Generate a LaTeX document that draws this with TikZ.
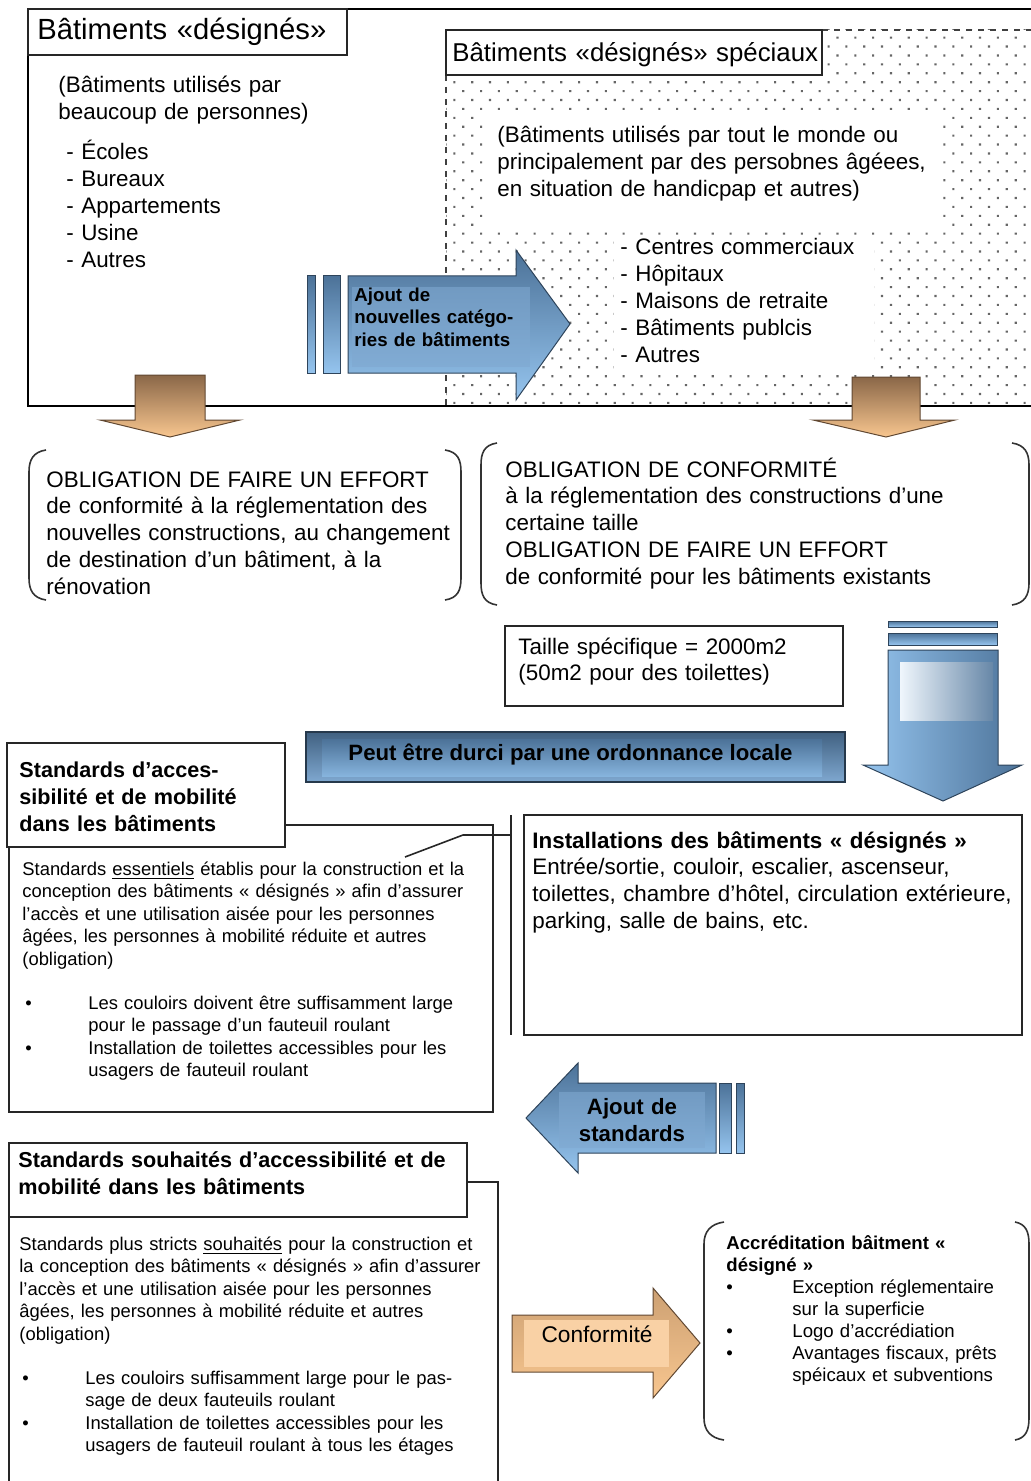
\documentclass[tikz,border=0pt]{standalone}
\usepackage{fontspec}
\setmainfont{Liberation Sans}
\usetikzlibrary{patterns.meta}

\definecolor{bluedk}{HTML}{4C7298}
\definecolor{bluelt}{HTML}{95C4EE}
\definecolor{bluemd}{HTML}{7FA8D0}
\definecolor{orgdk}{HTML}{8A6748}
\definecolor{orglt}{HTML}{F8C68F}

\newcommand{\fbody}{\fontsize{11.2}{13.4}\selectfont}
\newcommand{\fsmall}{\fontsize{9.2}{11.25}\selectfont}
\newcommand{\fhead}{\fontsize{10.8}{13.5}\selectfont\bfseries}
\newcommand{\bul}{\makebox[31.5pt][l]{•}}
\newcommand{\hind}{\hspace*{31.5pt}}

\tikzset{
  txt/.style={inner sep=0pt, anchor=base west, align=left, text width=#1},
  box/.style={draw=black!85, line width=0.8pt, fill=white, inner sep=0pt},
  bluearrow/.style={top color=bluedk, bottom color=bluelt, draw=bluedk!60!black, line width=0.5pt},
  bluedown/.style={left color=bluelt, right color=bluedk, draw=bluedk!60!black, line width=0.5pt},
  orangearrow/.style={top color=orgdk, bottom color=orglt, draw=orgdk!70!black, line width=0.5pt},
  paren/.style={line width=0.8pt, black!80}
}

\begin{document}
\begin{tikzpicture}[x=0.5pt,y=-0.5pt]
\useasboundingbox (0,0) rectangle (1031,1481);

\fill[pattern={Dots[distance=6.3pt,angle=45,radius=0.75pt]}, pattern color=black!60] (446,30) rectangle (1031,406);
\node (W1) at (712,170) [fill=white, inner sep=0pt, minimum width=228pt, minimum height=57pt] {};
\node (W2) at (744,302.5) [fill=white, inner sep=0pt, minimum width=130pt, minimum height=67.5pt] {};
\draw[dashed, line width=0.8pt, black!75] (446,75) -- (446,406);
\draw[dashed, line width=0.8pt, black!75] (822,30) -- (1031,30);

\draw[line width=1pt] (1031,9) -- (28,9) -- (28,406) -- (1031,406);

\node (T1) at (187.5,32) [box, minimum width=159.5pt, minimum height=23pt] {};
\node (T1t) at (37,40) [txt=158pt, font=\fontsize{14.6}{17}\selectfont] {Bâtiments «désignés»};
\node (T2) at (634,52.5) [box, minimum width=188pt, minimum height=22.5pt] {};
\node (T2t) at (452,62) [txt=186pt, font=\fontsize{12.9}{15}\selectfont] {Bâtiments «désignés» spéciaux};

\node (Lp) at (58,93) [txt=180pt, font=\fbody] {(Bâtiments utilisés par\\beaucoup de personnes)};
\node (Ll) at (66,160) [txt=150pt, font=\fbody] {- Écoles\\- Bureaux\\- Appartements\\- Usine\\- Autres};
\node (Rp) at (497,143) [txt=230pt, font=\fbody] {(Bâtiments utilisés par tout le monde ou\\principalement par des persobnes âgéees,\\en situation de handicpap et autres)};
\node (Rl) at (620,255) [txt=150pt, font=\fbody] {- Centres commerciaux\\- Hôpitaux\\- Maisons de retraite\\- Bâtiments publcis\\- Autres};

\draw[bluearrow] (307,276) rectangle (315,373);
\draw[bluearrow] (323,276) rectangle (340,373);
\draw[bluearrow] (348,276) -- (516,276) -- (516,250) -- (570,324) -- (516,400) -- (516,373) -- (348,373) -- cycle;
\fill[bluemd, opacity=0.6] (352,287) rectangle (530,367);
\node (A1) at (354,302) [txt=100pt, font=\fontsize{9.35}{11}\selectfont\bfseries] {Ajout de\\nouvelles catégo-\\ries de bâtiments};

\draw[orangearrow] (135,375) -- (205,375) -- (205,420) -- (240,420) -- (170,437) -- (100,420) -- (135,420) -- cycle;
\draw[orangearrow] (852,377) -- (920,377) -- (920,420) -- (955,420) -- (886,437) -- (813,420) -- (852,420) -- cycle;

\draw[paren] (46,450) .. controls (33,452) and (29,460) .. (29,472) -- (29,578) .. controls (29,590) and (33,598) .. (46,600);
\draw[paren] (445,450) .. controls (458,452) and (461,460) .. (461,472) -- (461,578) .. controls (461,590) and (458,598) .. (445,600);
\node (B1) at (46,487) [txt=225pt, font=\fbody] {OBLIGATION DE FAIRE UN EFFORT\\de conformité à la réglementation des\\nouvelles constructions, au changement\\de destination d’un bâtiment, à la\\rénovation};

\draw[paren] (497,443) .. controls (484,445) and (481,453) .. (481,465) -- (481,583) .. controls (481,595) and (484,603) .. (497,605);
\draw[paren] (1012,443) .. controls (1025,445) and (1029,453) .. (1029,465) -- (1029,583) .. controls (1029,595) and (1025,603) .. (1012,605);
\node (B2) at (505,477) [txt=250pt, font=\fbody] {OBLIGATION DE CONFORMITÉ\\à la réglementation des constructions d’une\\certaine taille\\OBLIGATION DE FAIRE UN EFFORT\\de conformité pour les bâtiments existants};

\node (T) at (674,666) [box, minimum width=169pt, minimum height=40pt] {};
\node (Tt) at (518,654) [txt=160pt, font=\fbody] {Taille spécifique = 2000m2\\(50m2 pour des toilettes)};

\draw[bluearrow] (888,621) rectangle (997,627);
\draw[bluearrow] (888,633) rectangle (997,645);
\draw[bluedown] (888,650) -- (998,650) -- (998,765) -- (1022,765) -- (943,801) -- (863,765) -- (888,765) -- cycle;
\shade[left color=white!85!bluelt, right color=bluedk!85] (900,662) rectangle (993,720);

\node (P) at (575.5,757) [minimum width=269.5pt, minimum height=25pt, top color=bluedk!85!black, bottom color=bluemd, draw=bluedk!50!black, line width=0.8pt] {};
\shade[top color=bluedk, bottom color=bluelt!80!bluedk] (322,739) rectangle (822,776);
\node (Pt) at (570.5,760) [anchor=base, inner sep=0pt, font=\fontsize{11.1}{13}\selectfont\bfseries] {Peut être durci par une ordonnance locale};

\node (S1) at (251,968.5) [box, minimum width=242pt, minimum height=143.5pt] {};
\node (H1) at (146,795) [box, minimum width=139pt, minimum height=52pt] {};
\node (H1t) at (19,777) [txt=135pt, font=\fhead] {Standards d’acces-\\sibilité et de mobilité\\dans les bâtiments};
\node (S1t) at (22,875) [txt=240pt, font=\fsmall] {Standards \underline{essentiels} établis pour la construction et la\\conception des bâtiments « désignés » afin d’assurer\\l’accès et une utilisation aisée pour les personnes\\âgées, les personnes à mobilité réduite et autres\\(obligation)};
\node (S1b) at (25,1009) [txt=240pt, font=\fsmall] {\bul Les couloirs doivent être suffisamment large\\\hind pour le passage d’un fauteuil roulant\\\bul Installation de toilettes accessibles pour les\\\hind usagers de fauteuil roulant};

\node (I) at (773,925) [box, minimum width=249pt, minimum height=110pt] {};
\node (It) at (532,848) [txt=245pt, font=\fbody] {\textbf{Installations des bâtiments « désignés »}\\Entrée/sortie, couloir, escalier, ascenseur,\\toilettes, chambre d’hôtel, circulation extérieure,\\parking, salle de bains, etc.};

\coordinate (K1) at (405,857);
\coordinate (K2) at (463,835);
\coordinate (K3) at (511,835);
\coordinate (K4) at (511,815);
\coordinate (K5) at (511,1035);
\draw[line width=0.8pt, black!85] (K1) -- (K2) -- (K3);
\draw[line width=0.8pt, black!85] (K4) -- (K5);

\draw[bluearrow] (719,1083) rectangle (731,1153);
\draw[bluearrow] (736,1083) rectangle (744,1153);
\draw[bluearrow] (716,1083) -- (578,1083) -- (578,1063) -- (526,1118) -- (578,1173) -- (578,1153) -- (716,1153) -- cycle;
\fill[bluemd, opacity=0.6] (559,1092) rectangle (705,1148);
\node (A2) at (632,1114) [anchor=base, inner sep=0pt, align=center, text width=70pt, font=\fontsize{11.1}{13.5}\selectfont\bfseries] {Ajout de\\standards};

\node (S2) at (253.5,1337) [box, minimum width=244.5pt, minimum height=155pt] {};
\node (H2) at (238,1180) [box, minimum width=229pt, minimum height=37pt] {};
\node (H2t) at (18,1167) [txt=226pt, font=\fhead] {Standards souhaités d’accessibilité et de\\mobilité dans les bâtiments};
\node (S2t) at (19,1250) [txt=240pt, font=\fsmall] {Standards plus stricts \underline{souhaités} pour la construction et\\la conception des bâtiments « désignés » afin d’assurer\\l’accès et une utilisation aisée pour les personnes\\âgées, les personnes à mobilité réduite et autres\\(obligation)};
\node (S2b) at (22,1384) [txt=240pt, font=\fsmall] {\bul Les couloirs suffisamment large pour le pas-\\\hind sage de deux fauteuils roulant\\\bul Installation de toilettes accessibles pour les\\\hind usagers de fauteuil roulant à tous les étages};

\draw[top color=orgdk!40!orglt, bottom color=orglt, draw=orgdk!70!black, line width=0.5pt] (512,1315) -- (653,1315) -- (653,1288) -- (700,1343) -- (653,1398) -- (653,1372) -- (512,1372) -- cycle;
\fill[orglt!80!white] (524,1320) rectangle (669,1367);
\node (C) at (597,1342) [anchor=base, inner sep=0pt, font=\fontsize{11.35}{13.5}\selectfont] {Conformité};

\draw[paren] (724,1222) .. controls (710,1224) and (704,1232) .. (704,1244) -- (704,1418) .. controls (704,1430) and (710,1438) .. (724,1440);
\draw[paren] (1015,1222) .. controls (1026,1224) and (1029,1232) .. (1029,1244) -- (1029,1418) .. controls (1029,1430) and (1026,1438) .. (1015,1440);
\node (Ac) at (726,1249) [txt=145pt, font=\fontsize{9.3}{11}\selectfont] {\textbf{Accréditation bâitment «}\\\textbf{désigné »}\\\makebox[33pt][l]{•}Exception réglementaire\\\hspace*{33pt}sur la superficie\\\makebox[33pt][l]{•}Logo d’accrédiation\\\makebox[33pt][l]{•}Avantages fiscaux, prêts\\\hspace*{33pt}spéicaux et subventions};

\end{tikzpicture}
\end{document}
